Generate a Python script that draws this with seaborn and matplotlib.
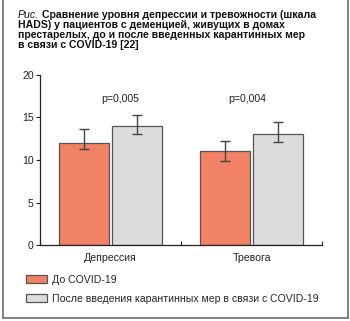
import matplotlib
matplotlib.use("Agg")
import matplotlib.pyplot as plt
import seaborn as sns
import pandas as pd
from matplotlib.patches import Patch
from matplotlib.lines import Line2D

categories = ["Депрессия", "Тревога"]
groups = ["До COVID-19", "После введения карантинных мер в связи с COVID-19"]
before = [12.0, 11.0]
after = [14.0, 13.0]
before_err_low = [0.7, 1.1]
before_err_high = [1.6, 1.2]
after_err_low = [1.0, 0.9]
after_err_high = [1.3, 1.4]
p_labels = ["p=0,005", "p=0,004"]
title_italic = "Рис."
title_lines = ["Сравнение уровня депрессии и тревожности (шкала",
               "HADS) у пациентов с деменцией, живущих в домах",
               "престарелых, до и после введенных карантинных мер",
               "в связи с COVID-19 [22]"]

sns.set_style("white")
plt.rcParams['font.family'] = ['Liberation Sans', 'DejaVu Sans']

df = pd.DataFrame({
    "cat": categories * 2,
    "grp": [groups[0]] * 2 + [groups[1]] * 2,
    "val": before + after,
})
colors = ["#F28264", "#DCDCDC"]

W, H = 350, 321
fig = plt.figure(figsize=(W / 100, H / 100), dpi=100)
ax = fig.add_axes([40 / W, 1 - 245.3 / H, (322 - 40) / W, (245.3 - 74.7) / H])

sns.barplot(data=df, x="cat", y="val", hue="grp", palette=colors, ax=ax,
            width=0.75, gap=0.05, edgecolor="#555555", linewidth=0.9,
            saturation=1, legend=False, errorbar=None)

# error bars
errs_low = before_err_low + after_err_low
errs_high = before_err_high + after_err_high
vals = before + after
for patch, v, lo, hi in zip(ax.patches[:4], vals, errs_low, errs_high):
    xc = patch.get_x() + patch.get_width() / 2
    ax.errorbar([xc], [v], yerr=[[lo], [hi]], fmt="none", ecolor="#444444",
                elinewidth=1.0, capsize=3.3, capthick=1.0)

fs = 7.6
for i, t in enumerate(p_labels):
    ax.text(i + (0.07 if i == 0 else -0.03), 17.2, t, ha="center", va="center",
            fontsize=fs, color="#222222")

ax.set_xlim(-0.5, 1.5)
ax.set_ylim(0, 20)
ax.set_yticks([0, 5, 10, 15, 20])
ax.set_xticks([0, 1])
ax.set_xticklabels(categories)
ax.set_xticks([-0.5, 0.5, 1.5], minor=True)
ax.set_xlabel("")
ax.set_ylabel("")
ax.tick_params(axis="y", length=3, width=0.8, pad=1.5, labelsize=fs, colors="#222222", left=True)
ax.tick_params(axis="x", which="major", length=0, pad=5.5, labelsize=fs, labelcolor="#222222")
ax.tick_params(axis="x", which="minor", direction="in", length=3, width=0.8, color="#222222", bottom=True)
for s in ["top", "right"]:
    ax.spines[s].set_visible(False)
for s in ["left", "bottom"]:
    ax.spines[s].set_color("#222222")
    ax.spines[s].set_linewidth(0.9)

# legend
handles = [Patch(facecolor=c, edgecolor="#555555", linewidth=0.9) for c in colors]
fig.legend(handles, groups, loc="upper left", bbox_to_anchor=(26 / W, 1 - 275 / H),
           frameon=False, fontsize=fs, handlelength=2.0, handleheight=0.8,
           handletextpad=0.45, labelspacing=0.85, borderpad=0, borderaxespad=0)

# title
fig.canvas.draw()
r = fig.canvas.get_renderer()
x0 = 18 / W
ys = [15, 25.2, 35.2, 44.5]
ti = fig.text(x0, 1 - ys[0] / H, title_italic, style="italic", fontsize=fs,
              va="center", ha="left", color="#111111")
ext = ti.get_window_extent(r)
x1 = (ext.x1 + 3) / W
for k, line in enumerate(title_lines):
    fig.text(x1 if k == 0 else x0, 1 - ys[k] / H, line, fontweight="bold",
             fontsize=fs, va="center", ha="left", color="#111111")

# frame
fc = "#777777"
fig.add_artist(Line2D([3 / W, 3 / W], [0 + 2.7 / H, 1], transform=fig.transFigure, color=fc, lw=1.3))
fig.add_artist(Line2D([347.5 / W, 347.5 / W], [2.7 / H, 1], transform=fig.transFigure, color=fc, lw=1.3))
fig.add_artist(Line2D([3 / W, 347.5 / W], [2.7 / H, 2.7 / H], transform=fig.transFigure, color=fc, lw=1.3))

fig.savefig("out.png", dpi=100)
